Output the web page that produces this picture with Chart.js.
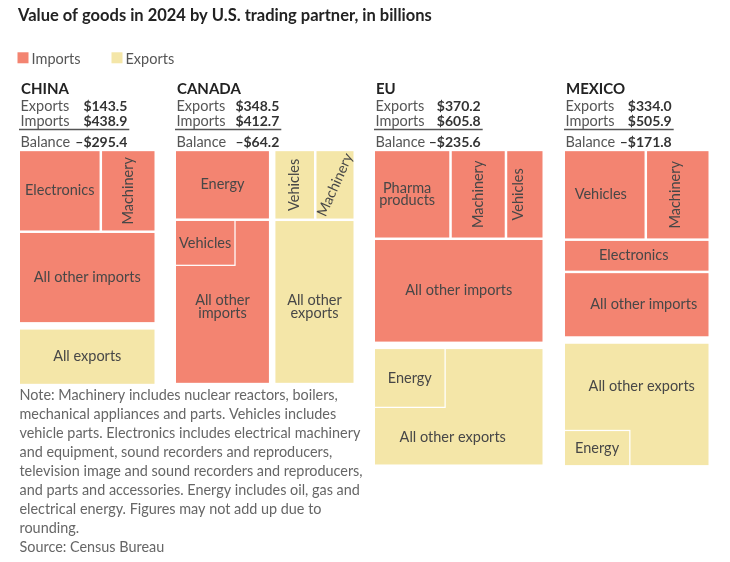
<!DOCTYPE html>
<html>
<head>
<meta charset="utf-8">
<script src="https://cdn.jsdelivr.net/npm/chart.js@4.4.1/dist/chart.umd.min.js"></script>
<style>
  html, body { margin: 0; padding: 0; background: #fff; }
</style>
</head>
<body>
<canvas id="chart" width="730" height="562"></canvas>
<script>
// totals per partner, billions of dollars
const countries = ['CHINA', 'CANADA', 'EU', 'MEXICO'];
const exportsTotal = [143.5, 348.5, 370.2, 334.0];
const importsTotal = [438.9, 412.7, 605.8, 505.9];
const balance = [-295.4, -64.2, -235.6, -171.8];

// biggest categories
const chinaImpCats = ['Electronics', 'Machinery'];
const chinaImpVals = [124, 83];
const canadaImpCats = ['Energy', 'Vehicles'];
const canadaImpVals = [123, 52];
const canadaExpCats = ['Vehicles', 'Machinery'];
const canadaExpVals = [53, 51];
const euImpCats = ['Pharma products', 'Machinery', 'Vehicles'];
const euImpVals = [126, 91, 62];
const euExpCats = ['Energy'];
const euExpVals = [80];
const mexicoImpCats = ['Vehicles', 'Machinery', 'Electronics'];
const mexicoImpVals = [136, 106, 87];
const mexicoExpCats = ['Energy'];
const mexicoExpVals = [45];

const noteLines = [
  'Note: Machinery includes nuclear reactors, boilers,',
  'mechanical appliances and parts. Vehicles includes',
  'vehicle parts. Electronics includes electrical machinery',
  'and equipment, sound recorders and reproducers,',
  'television image and sound recorders and reproducers,',
  'and parts and accessories. Energy includes oil, gas and',
  'electrical energy. Figures may not add up due to',
  'rounding.',
  'Source: Census Bureau'
];

const IMP_COLOR = '#f38471';
const EXP_COLOR = '#f4e6a8';
const FONT = 'Lato, "Open Sans", sans-serif';

// layout (pixels)
const K = 54.2;        // px^2 per billion
const TOP = 149.45;
const GAP = 5;
const INSET = 1.25;
const colLeft = [20, 176, 375, 565];
const valRight = [127.3, 279.3, 480.7, 671.7];

function buildGroups() {
  const groups = [];
  const chImp = {x: 18.75, y: TOP, w: 137, total: importsTotal[0], color: IMP_COLOR,
    cats: chinaImpCats, vals: chinaImpVals, slices: [{row: [0, 1], rot: [0, -90]}],
    rest: 'All other imports'};
  const chImpH = importsTotal[0] * K / chImp.w;
  const chExp = {x: 18.75, y: TOP + chImpH + GAP, w: 137, total: exportsTotal[0], color: EXP_COLOR,
    cats: [], vals: [], slices: [], rest: 'All exports'};
  groups.push(chImp, chExp);

  const caW = 176;
  const caImpW = caW * importsTotal[1] / (importsTotal[1] + exportsTotal[1]);
  const caExpW = caW - caImpW;
  groups.push({x: 174.75, y: TOP, w: caImpW, total: importsTotal[1], color: IMP_COLOR,
    cats: canadaImpCats, vals: canadaImpVals,
    slices: [{row: [0]}, {corner: 1, frac: 0.638}], rest: 'All other imports', restDy: 5});
  groups.push({x: 174.75 + caImpW + 4, y: TOP, w: caExpW, total: exportsTotal[1], color: EXP_COLOR,
    cats: canadaExpCats, vals: canadaExpVals,
    slices: [{row: [0, 1], rot: [-90, -66]}], rest: 'All other exports', restDy: 5});

  const euImpH = importsTotal[2] * K / 170;
  groups.push({x: 373.75, y: TOP, w: 170, total: importsTotal[2], color: IMP_COLOR,
    cats: euImpCats, vals: euImpVals,
    slices: [{row: [0, 1, 2], rot: [0, -90, -90], dx: [-5, 0, -7]}], rest: 'All other imports'});
  groups.push({x: 373.75, y: TOP + euImpH + GAP, w: 170, total: exportsTotal[2], color: EXP_COLOR,
    cats: euExpCats, vals: euExpVals,
    slices: [{corner: 0, frac: 0.4235}], rest: 'All other exports', restIn: 'strip', restDx: -6});

  const mxImpH = importsTotal[3] * K / 146;
  groups.push({x: 563.75, y: TOP, w: 146, total: importsTotal[3], color: IMP_COLOR,
    cats: mexicoImpCats, vals: mexicoImpVals,
    slices: [{row: [0, 1], rot: [0, -90], dx: [-4, -2]}, {row: [2], dx: [-3]}],
    rest: 'All other imports', restDx: 7});
  groups.push({x: 563.75, y: TOP + mxImpH + GAP, w: 146, total: exportsTotal[3], color: EXP_COLOR,
    cats: mexicoExpCats, vals: mexicoExpVals,
    slices: [{corner: 0, frac: 0.457, at: 'bottom'}], rest: 'All other exports', restIn: 'strip', restDx: 5});
  return groups;
}

function layoutGroup(gr) {
  const h = gr.total * K / gr.w;
  let top = gr.y;
  const bottom = gr.y + h;
  const cells = [];
  let corner = null;
  gr.slices.forEach(s => {
    if (s.row) {
      const sum = s.row.reduce((a, i) => a + gr.vals[i], 0);
      const rh = sum / gr.total * h;
      let x = gr.x;
      s.row.forEach((i, j) => {
        const cw = gr.vals[i] / sum * gr.w;
        cells.push({x: x, y: top, w: cw, h: rh, label: gr.cats[i],
          rot: (s.rot || [])[j] || 0, dx: (s.dx || [])[j] || 0});
        x += cw;
      });
      top += rh;
    } else {
      const cw = s.frac * gr.w;
      const ch = gr.vals[s.corner] * K / cw;
      const cy = s.at === 'bottom' ? bottom - ch : top;
      corner = {x: gr.x, y: cy, w: cw, h: ch, at: s.at || 'top'};
      cells.push({x: gr.x, y: cy, w: cw, h: ch, label: gr.cats[s.corner], rot: 0, dx: 0});
    }
  });
  let ly = (top + bottom) / 2;
  if (corner && gr.restIn === 'strip') {
    ly = corner.at === 'bottom' ? (top + corner.y) / 2 : (corner.y + corner.h + bottom) / 2;
  }
  const rest = {x: gr.x, y: top, w: gr.w, h: bottom - top, label: gr.rest,
    lx: gr.x + gr.w / 2 + (gr.restDx || 0), ly: ly + (gr.restDy || 0)};
  return {cells, rest};
}

const treemapPlugin = {
  id: 'tradeTreemap',
  afterDatasetsDraw(chart) {
    const ctx = chart.ctx;
    const sx = v => chart.scales.x.getPixelForValue(v);
    const sy = v => chart.scales.y.getPixelForValue(v);

    function fillCell(r, color) {
      const x0 = sx(r.x), x1 = sx(r.x + r.w), y0 = sy(r.y), y1 = sy(r.y + r.h);
      ctx.fillStyle = '#ffffff';
      ctx.fillRect(x0, y0, x1 - x0, y1 - y0);
      ctx.fillStyle = color;
      ctx.fillRect(x0 + INSET, y0 + INSET, x1 - x0 - 2 * INSET, y1 - y0 - 2 * INSET);
    }

    function label(text, cx, cy, maxW, rot) {
      ctx.save();
      ctx.font = '14.5px ' + FONT;
      ctx.fillStyle = '#474747';
      ctx.textAlign = 'center';
      ctx.textBaseline = 'middle';
      ctx.translate(sx(cx), sy(cy));
      ctx.rotate(rot * Math.PI / 180);
      let lines = [text];
      if (!rot && ctx.measureText(text).width > maxW - 6) {
        lines = [];
        let cur = '';
        text.split(' ').forEach(w => {
          const t = cur ? cur + ' ' + w : w;
          if (cur && ctx.measureText(t).width > maxW - 6) { lines.push(cur); cur = w; } else cur = t;
        });
        lines.push(cur);
      }
      lines.forEach((l, i) => ctx.fillText(l, 0, (i - (lines.length - 1) / 2) * 12.7));
      ctx.restore();
    }

    // legend
    ctx.save();
    ctx.font = '14.5px ' + FONT;
    ctx.textBaseline = 'alphabetic';
    const legX = [17.5, 111.5];
    chart.data.datasets.forEach((ds, i) => {
      ctx.fillStyle = ds.backgroundColor;
      ctx.fillRect(sx(legX[i]), sy(51.7), 11, 11);
      ctx.fillStyle = '#555555';
      ctx.fillText(ds.label, sx(legX[i] + 14), sy(63));
    });
    ctx.restore();

    // headers
    countries.forEach((c, i) => {
      const L = colLeft[i];
      ctx.save();
      ctx.textBaseline = 'alphabetic';
      ctx.fillStyle = '#222222';
      ctx.font = 'bold 15px ' + FONT;
      ctx.textAlign = 'left';
      ctx.fillText(c, sx(L + 1), sy(93.3));
      const rows = [['Exports', '$' + exportsTotal[i].toFixed(1), 110.3],
                    ['Imports', '$' + importsTotal[i].toFixed(1), 125.3],
                    ['Balance', '\u2013$' + Math.abs(balance[i]).toFixed(1), 146.3]];
      rows.forEach(r => {
        ctx.font = '14.5px ' + FONT;
        ctx.fillStyle = '#555555';
        ctx.textAlign = 'left';
        ctx.fillText(r[0], sx(L + 0.5), sy(r[2]));
        ctx.font = 'bold 14px ' + FONT;
        ctx.fillStyle = '#333333';
        ctx.textAlign = 'right';
        ctx.fillText(r[1], sx(valRight[i]), sy(r[2]));
      });
      ctx.strokeStyle = '#555555';
      ctx.lineWidth = 1.5;
      ctx.beginPath();
      ctx.moveTo(sx(L - 1), sy(129));
      ctx.lineTo(sx(valRight[i] + 2), sy(129));
      ctx.stroke();
      ctx.restore();
    });

    // treemaps
    buildGroups().forEach(gr => {
      const lay = layoutGroup(gr);
      fillCell(lay.rest, gr.color);
      lay.cells.forEach(c => fillCell(c, gr.color));
      label(lay.rest.label, lay.rest.lx, lay.rest.ly, lay.rest.w, 0);
      lay.cells.forEach(c => label(c.label, c.x + c.w / 2 + c.dx, c.y + c.h / 2, c.w, c.rot));
    });

    // note
    ctx.save();
    ctx.font = '14.4px ' + FONT;
    ctx.fillStyle = '#666666';
    ctx.textBaseline = 'middle';
    noteLines.forEach((l, i) => ctx.fillText(l, sx(19.5), sy(395 + i * 19)));
    ctx.restore();
  }
};

new Chart(document.getElementById('chart'), {
  type: 'scatter',
  data: {
    datasets: [
      {label: 'Imports', backgroundColor: IMP_COLOR, data: []},
      {label: 'Exports', backgroundColor: EXP_COLOR, data: []}
    ]
  },
  options: {
    responsive: false,
    animation: false,
    layout: {padding: {top: 6, left: 18, right: 0, bottom: 0}},
    scales: {
      x: {type: 'linear', display: false, bounds: 'data', min: 18, max: 730},
      y: {type: 'linear', display: false, bounds: 'data', reverse: true, min: 39.2, max: 562}
    },
    plugins: {
      legend: {display: false},
      tooltip: {enabled: false},
      title: {
        display: true,
        text: 'Value of goods in 2024 by U.S. trading partner, in billions',
        align: 'start',
        color: '#222222',
        font: {family: FONT, size: 16.5, weight: 'bold'},
        padding: {top: 0, bottom: 14}
      }
    }
  },
  plugins: [treemapPlugin]
});
</script>
</body>
</html>
